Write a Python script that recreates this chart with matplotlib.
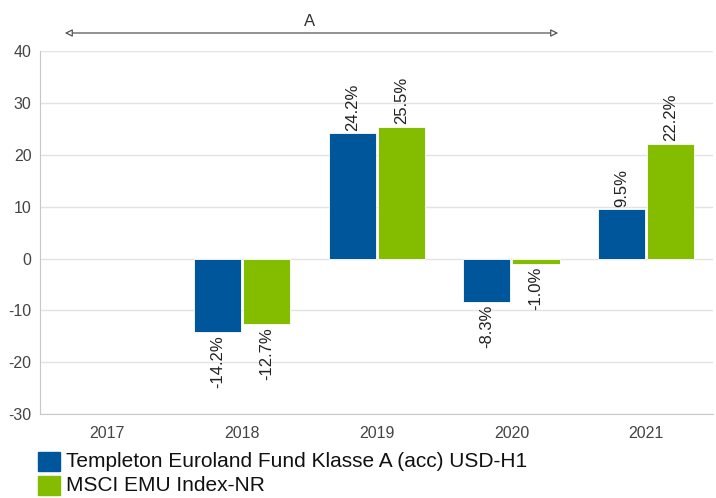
import numpy as np
from matplotlib import pyplot as plt
from matplotlib.patches import Rectangle

plt.rcParams['font.family'] = ['Liberation Sans', 'DejaVu Sans']
plt.rcParams['axes.unicode_minus'] = False

years = ['2017', '2018', '2019', '2020', '2021']
fund = [np.nan, -14.2, 24.2, -8.3, 9.5]
index = [np.nan, -12.7, 25.5, -1.0, 22.2]
fund_name = 'Templeton Euroland Fund Klasse A (acc) USD-H1'
index_name = 'MSCI EMU Index-NR'
blue = '#00569b'
green = '#84bc00'

fig = plt.figure(figsize=(7.16, 4.98), dpi=100)
ax = fig.add_axes([0.0559, 0.1687, 0.9406, 0.7279])

x = np.arange(len(years))
w = 0.35
ax.bar(x - w / 2 - 0.0075, fund, w, color=blue, edgecolor='white', linewidth=0.6)
ax.bar(x + w / 2 + 0.0075, index, w, color=green, edgecolor='white', linewidth=0.6)

for xs, vals in ((x - w / 2 - 0.0075, fund), (x + w / 2 + 0.0075, index)):
    for xi, v in zip(xs, vals):
        if np.isnan(v):
            continue
        off = 0.5 if v >= 0 else -0.5
        ax.text(xi, v + off, f'{v:.1f}%', rotation=90, ha='center',
                va='bottom' if v >= 0 else 'top', fontsize=12, color='#222222')

ax.set_xlim(-0.5, 4.5)
ax.set_ylim(-30, 40)
ax.set_yticks(range(-30, 41, 10))
ax.set_xticks(x)
ax.set_xticklabels(years)
ax.grid(axis='y', color='#e3e3e3', linewidth=1)
ax.set_axisbelow(True)
for s in ('top', 'right'):
    ax.spines[s].set_visible(False)
for s in ('left', 'bottom'):
    ax.spines[s].set_color('#c8c8c8')
ax.tick_params(axis='both', length=0, labelsize=11.5, colors='#444444')
ax.tick_params(axis='x', pad=9)
ax.tick_params(axis='y', pad=6)

# period arrow
ax.annotate('', xy=(561 / 716, 1 - 33 / 498), xytext=(62 / 716, 1 - 33 / 498),
            xycoords='figure fraction', textcoords='figure fraction',
            arrowprops=dict(arrowstyle='<|-|>', edgecolor='#555555', lw=0.9,
                            facecolor='white', mutation_scale=11))
fig.text(310 / 716, 1 - 21 / 498, 'A', ha='center', va='center', fontsize=12, color='#333333')

# legend
for i, (name, col) in enumerate(((fund_name, blue), (index_name, green))):
    y = 1 - (452 + i * 24) / 498
    fig.patches.append(Rectangle((38 / 716, y - 19 / 498), 22 / 716, 19 / 498,
                                 transform=fig.transFigure, color=col))
    fig.text(66 / 716, y - 9.5 / 498, name, ha='left', va='center', fontsize=15, color='#111111')

fig.savefig('out.png', dpi=100)
